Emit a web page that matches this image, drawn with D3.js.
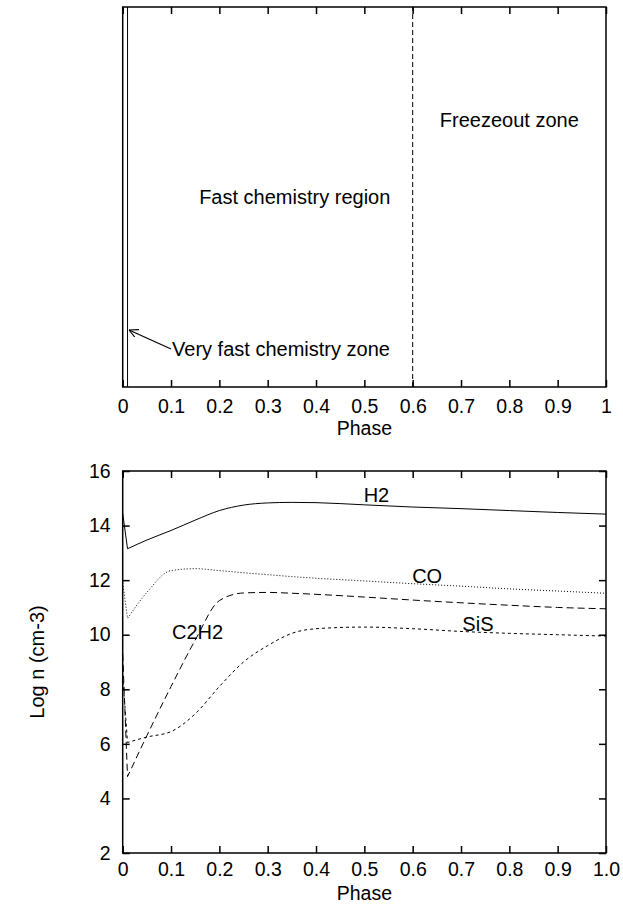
<!DOCTYPE html>
<html>
<head>
<meta charset="utf-8">
<script src="https://cdn.jsdelivr.net/npm/d3@7"></script>
<style>
  body { margin: 0; background: #fff; }
  svg { display: block; }
  text { font-family: "Liberation Sans", Arial, Helvetica, sans-serif; fill: #000; }
</style>
</head>
<body>
<svg id="chart" width="623" height="907"></svg>
<script>
// phase grid of the bottom panel
const phase = [0, 0.01, 0.05, 0.1, 0.15, 0.2, 0.25, 0.3, 0.35, 0.4, 0.5, 0.6, 0.7, 0.8, 0.9, 1.0];
// log n (cm-3) for each molecule
const h2   = [14.45, 13.15, 13.47, 13.82, 14.2, 14.55, 14.75, 14.83, 14.85, 14.84, 14.76, 14.68, 14.62, 14.55, 14.48, 14.42];
const co   = [11.9, 10.6, 11.55, 12.35, 12.42, 12.35, 12.27, 12.2, 12.13, 12.07, 11.97, 11.87, 11.78, 11.68, 11.6, 11.52];
const c2h2 = [9.3, 4.8, 6.3, 8.1, 9.8, 11.25, 11.53, 11.55, 11.52, 11.48, 11.38, 11.27, 11.17, 11.08, 11.0, 10.95];
const sis  = [8.5, 6.05, 6.25, 6.45, 7.1, 8.1, 9.0, 9.6, 10.05, 10.22, 10.28, 10.22, 10.12, 10.05, 10.0, 9.95];

// tick labels
const topTickLabels = ["0", "0.1", "0.2", "0.3", "0.4", "0.5", "0.6", "0.7", "0.8", "0.9", "1"];
const bottomTickLabels = ["0", "0.1", "0.2", "0.3", "0.4", "0.5", "0.6", "0.7", "0.8", "0.9", "1.0"];
const yTicks = [2, 4, 6, 8, 10, 12, 14, 16];

// zone boundaries of the top panel (phase)
const zoneBounds = [0.01, 0.6];

const svg = d3.select("#chart");
const fontSize = 20;
const tickFont = 19.5;

const left = 122.7, right = 606;
const top1 = 7, bottom1 = 387;
const top2 = 471, bottom2 = 853;

const xTop = d3.scaleLinear().domain([0, 1]).range([left, right]);
const yTop = d3.scaleLinear().domain([0, 1]).range([bottom1, top1]);
const x = d3.scaleLinear().domain([0, 1]).range([left, right]);
const y = d3.scaleLinear().domain([2, 16]).range([bottom2, top2]);

const xTickVals = d3.range(0, 11).map(i => i / 10);

function styleAxis(g) {
  g.select(".domain").remove();
  g.selectAll(".tick line").attr("stroke", "#000").attr("stroke-width", 1.5);
  g.selectAll(".tick text").attr("font-size", tickFont).attr("fill", "#000")
    .attr("font-family", '"Liberation Sans", Arial, sans-serif');
}

// ---------- top panel ----------
svg.append("g")
  .attr("transform", `translate(0,${bottom1})`)
  .call(d3.axisBottom(xTop).tickValues(xTickVals).tickSize(-7).tickPadding(12)
    .tickFormat((d, i) => topTickLabels[i]))
  .call(styleAxis);

svg.append("g")
  .attr("transform", `translate(0,${top1})`)
  .call(d3.axisTop(xTop).tickValues(xTickVals).tickSize(-7).tickFormat(""))
  .call(styleAxis);

svg.append("rect")
  .attr("x", left).attr("y", top1)
  .attr("width", right - left).attr("height", bottom1 - top1)
  .attr("fill", "none").attr("stroke", "#000").attr("stroke-width", 1.5);

// very fast chemistry boundary (solid) and freezeout boundary (dashed)
svg.append("line")
  .attr("x1", xTop(zoneBounds[0])).attr("x2", xTop(zoneBounds[0]))
  .attr("y1", yTop(0)).attr("y2", yTop(1))
  .attr("stroke", "#000").attr("stroke-width", 1);

svg.append("line")
  .attr("x1", xTop(zoneBounds[1])).attr("x2", xTop(zoneBounds[1]))
  .attr("y1", yTop(0)).attr("y2", yTop(1))
  .attr("stroke", "#000").attr("stroke-width", 1)
  .attr("stroke-dasharray", "5,3");

svg.append("text")
  .attr("x", xTop(0.8)).attr("y", yTop(0.683))
  .attr("text-anchor", "middle").attr("font-size", fontSize)
  .text("Freezeout zone");

svg.append("text")
  .attr("x", xTop(0.356)).attr("y", yTop(0.481))
  .attr("text-anchor", "middle").attr("font-size", fontSize)
  .text("Fast chemistry region");

// arrow pointing at the very fast chemistry boundary
svg.append("defs").append("marker")
  .attr("id", "arrow")
  .attr("viewBox", "0 0 10 10")
  .attr("refX", 10).attr("refY", 5)
  .attr("markerWidth", 9).attr("markerHeight", 9)
  .attr("markerUnits", "userSpaceOnUse")
  .attr("orient", "auto")
  .append("path")
  .attr("d", "M0,0 L10,5 L0,10")
  .attr("fill", "none").attr("stroke", "#000").attr("stroke-width", 1.2);

svg.append("line")
  .attr("x1", xTop(0.1)).attr("y1", yTop(0.1))
  .attr("x2", xTop(0.012) + 0.5).attr("y2", yTop(0.15))
  .attr("stroke", "#000").attr("stroke-width", 1.2)
  .attr("marker-end", "url(#arrow)");

svg.append("text")
  .attr("x", xTop(0.1) + 1).attr("y", yTop(0.1) + 7)
  .attr("font-size", fontSize)
  .text("Very fast chemistry zone");

svg.append("text")
  .attr("x", xTop(0.5)).attr("y", 435)
  .attr("text-anchor", "middle").attr("font-size", tickFont)
  .text("Phase");

// ---------- bottom panel ----------
svg.append("g")
  .attr("transform", `translate(0,${bottom2})`)
  .call(d3.axisBottom(x).tickValues(xTickVals).tickSize(-7).tickPadding(9)
    .tickFormat((d, i) => bottomTickLabels[i]))
  .call(styleAxis);

svg.append("g")
  .attr("transform", `translate(0,${top2})`)
  .call(d3.axisTop(x).tickValues(xTickVals).tickSize(-7).tickFormat(""))
  .call(styleAxis);

svg.append("g")
  .attr("transform", `translate(${left},0)`)
  .call(d3.axisLeft(y).tickValues(yTicks).tickSize(-7).tickPadding(12))
  .call(styleAxis);

svg.append("g")
  .attr("transform", `translate(${right},0)`)
  .call(d3.axisRight(y).tickValues(yTicks).tickSize(-7).tickFormat(""))
  .call(styleAxis);

svg.append("rect")
  .attr("x", left).attr("y", top2)
  .attr("width", right - left).attr("height", bottom2 - top2)
  .attr("fill", "none").attr("stroke", "#000").attr("stroke-width", 1.5);

const series = [
  { name: "H2", values: h2, dash: null, label: [0.525, 14.85] },
  { name: "CO", values: co, dash: "1,2", label: [0.63, 11.9] },
  { name: "C2H2", values: c2h2, dash: "7,4", label: [0.155, 9.85] },
  { name: "SiS", values: sis, dash: "3,3", label: [0.735, 10.12] }
];

// first step (phase 0 -> 0.01) is a sharp drop; the rest is smoothed
const smooth = d3.line()
  .x(d => x(d[0]))
  .y(d => y(d[1]))
  .curve(d3.curveMonotoneX);

function seriesPath(values) {
  const pts = phase.map((p, i) => [p, values[i]]);
  const rest = smooth(pts.slice(1));
  return `M${x(pts[0][0])},${y(pts[0][1])}L` + rest.slice(1);
}

series.forEach(s => {
  svg.append("path")
    .attr("fill", "none")
    .attr("stroke", "#000")
    .attr("stroke-width", 1)
    .attr("stroke-dasharray", s.dash)
    .attr("d", seriesPath(s.values));
});

svg.selectAll(".species-label")
  .data(series)
  .enter().append("text")
  .attr("class", "species-label")
  .attr("x", d => x(d.label[0]))
  .attr("y", d => y(d.label[1]))
  .attr("text-anchor", "middle")
  .attr("font-size", fontSize)
  .text(d => d.name);

svg.append("text")
  .attr("x", x(0.5)).attr("y", 900)
  .attr("text-anchor", "middle").attr("font-size", tickFont)
  .text("Phase");

svg.append("text")
  .attr("transform", `translate(37,${y(9)}) rotate(-90)`)
  .attr("text-anchor", "middle").attr("dy", "0.35em")
  .attr("font-size", fontSize)
  .text("Log n (cm-3)");
</script>
</body>
</html>
